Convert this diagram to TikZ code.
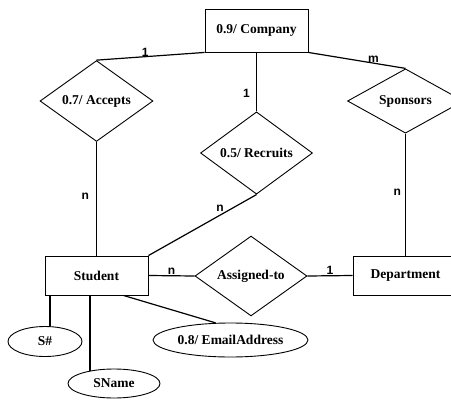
\documentclass[tikz,border=0pt]{standalone}
\usepackage{fontspec}
\setmainfont{Liberation Serif}
\newfontfamily\cardfont{Liberation Sans}
\usetikzlibrary{shapes.geometric}
\begin{document}
\begin{tikzpicture}[x=1pt,y=-1pt,
  shapetext/.style={font=\fontsize{13.5}{16}\selectfont\bfseries},
  entity/.style={shapetext,draw,line width=0.9pt,rectangle,minimum width=103pt,minimum height=39pt,inner sep=0pt},
  relation/.style={shapetext,draw,line width=0.9pt,diamond,inner sep=0pt},
  attribute/.style={shapetext,draw,line width=0.9pt,ellipse,inner sep=0pt},
  link/.style={line width=1.2pt},
  card/.style={font=\cardfont\bfseries\fontsize{12}{14}\selectfont,inner sep=1pt}
]
\useasboundingbox (0,0) rectangle (451,408);
\clip (0,0) rectangle (451,408);
\fill[white] (0,0) rectangle (451,408);

% entities
\node[entity,minimum height=43pt] (company) at (256.5,30.5) {0.9/ Company};
\node[entity] (student) at (96.5,275.5) {Student};
\node[entity,minimum width=105pt] (department) at (405.5,275.5) {Department};

% relationships
\node[relation,minimum width=113pt,minimum height=60pt] (accepts) at (96.5,101) {0.7/ Accepts};
\node[relation,minimum width=112pt,minimum height=60pt] (recruits) at (256.5,153) {0.5/ Recruits};
\node[relation,minimum width=116pt,minimum height=60pt] (sponsors) at (405.5,101) {Sponsors};
\node[relation,minimum width=112pt,minimum height=61pt] (assigned) at (251,276) {Assigned-to};

% attributes of Student
\node[attribute,minimum width=74pt,minimum height=30pt] (snum) at (45,341.5) {S\#};
\node[attribute,minimum width=92pt,minimum height=29pt] (sname) at (114,383.5) {SName};
\node[attribute,minimum width=155pt,minimum height=34pt] (email) at (230.5,340) {0.8/ EmailAddress};

% relationship links with cardinalities
\draw[link] (company.south west) -- node[card,pos=0.55,above=-1pt]{1} (accepts.north);
\draw[link] (company.south) -- node[card,pos=0.69,left=5pt]{1} (recruits.north);
\draw[link] (company.south east) -- node[card,pos=0.67,above=-1pt]{m} (sponsors.north);
\draw[link] (accepts.south) -- node[card,pos=0.48,left=6pt]{n} (student.north);
\draw[link] (recruits.south) -- node[card,pos=0.3,above,xshift=-4pt]{n} (student.north east);
\draw[link] (sponsors.south) -- node[card,pos=0.48,left=3pt]{n} (department.north);
\draw[link] (student.east) -- node[card,above]{n} (assigned.west);
\draw[link] (assigned.east) -- node[card,above]{1} (department.west);

% attribute links
\draw[link] (snum.72) -- (snum.72 |- student.south);
\draw[link] (sname.152) -- (sname.152 |- student.south);
\draw[link] ([xshift=-25pt]student.south east) -- (email.131);
\end{tikzpicture}
\end{document}
